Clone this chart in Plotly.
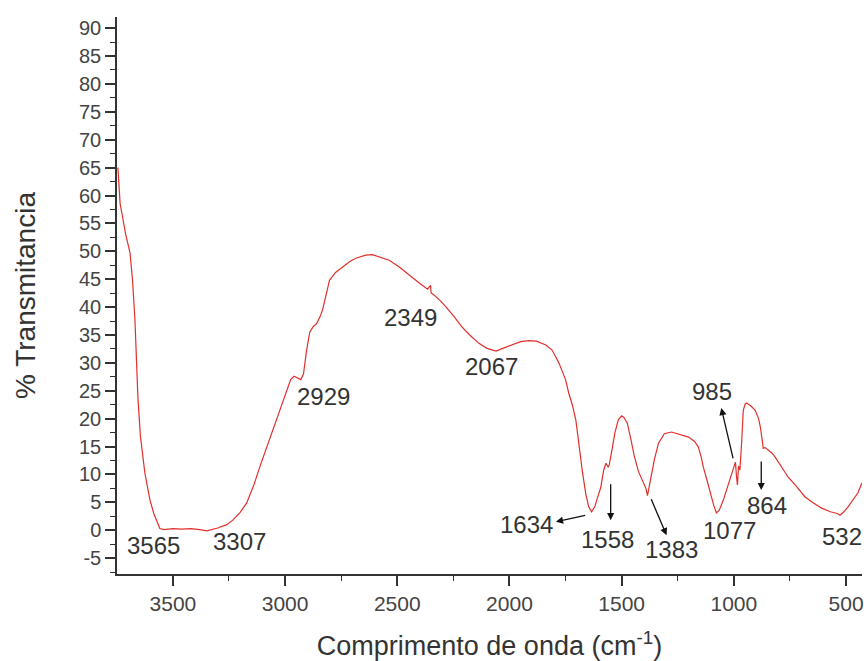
import plotly.graph_objects as go

# Spectrum: wavenumber (cm-1) and % transmittance
wavenumber = [3745, 3740, 3735, 3728, 3722, 3710, 3691, 3680, 3669, 3662, 3656, 3645, 3635, 3625,
              3612, 3602, 3585, 3571, 3558, 3540, 3500, 3460, 3420, 3380, 3349, 3300, 3260, 3233,
              3200, 3171, 3140, 3113, 3085, 3056, 3025, 2993, 2975, 2960, 2945, 2930, 2918, 2905,
              2890, 2875, 2860, 2845, 2833, 2820, 2802, 2775, 2745, 2710, 2682, 2640, 2611, 2580,
              2536, 2491, 2450, 2402, 2365, 2352, 2349, 2340, 2310, 2282, 2245, 2211, 2175, 2136,
              2100, 2060, 2030, 1989, 1950, 1913, 1880, 1838, 1810, 1793, 1780, 1767, 1750, 1736,
              1720, 1704, 1690, 1675, 1660, 1647, 1634, 1620, 1611, 1600, 1593, 1580, 1570, 1560,
              1555, 1545, 1530, 1515, 1500, 1490, 1475, 1460, 1445, 1425, 1405, 1392, 1385, 1380,
              1370, 1355, 1336, 1310, 1278, 1240, 1202, 1175, 1158, 1145, 1136, 1120, 1105, 1090,
              1078, 1065, 1047, 1030, 1016, 1002, 993, 988, 984, 979, 973, 965, 958, 950, 944, 925,
              905, 890, 882, 875, 869, 860, 847, 830, 816, 790, 758, 720, 684, 650, 611, 570, 540,
              527, 510, 491, 470, 447, 429]
transmittance = [65.0, 62.0, 58.5, 57.0, 55.6, 53.0, 49.7, 45.0, 37.7, 31.0, 23.9, 17.0, 13.0, 10.3,
                 7.5, 5.4, 3.0, 1.5, 0.3, 0.1, 0.3, 0.2, 0.3, 0.1, -0.1, 0.4, 1.0, 1.8,
                 3.2, 4.9, 8.0, 11.3, 14.5, 18.0, 21.5, 25.1, 27.0, 27.6, 27.3, 27.0, 28.0, 32.0,
                 35.5, 36.5, 37.0, 38.2, 39.5, 42.0, 44.8, 46.2, 47.2, 48.2, 48.8, 49.3, 49.4, 49.0,
                 48.4, 47.2, 45.8, 44.3, 43.2, 43.9, 42.5, 42.3, 41.2, 40.0, 38.2, 36.4, 34.9, 33.5,
                 32.6, 32.1, 32.6, 33.2, 33.8, 34.0, 33.9, 33.2, 32.3, 31.0, 30.0, 28.7, 27.0, 24.6,
                 22.5, 19.7, 15.0, 10.5, 6.5, 4.2, 3.3, 4.2, 5.4, 7.0, 7.7, 10.8, 12.0, 11.3,
                 11.8, 14.0, 17.5, 19.8, 20.5, 20.2, 19.2, 16.5, 13.5, 10.5, 8.5, 7.5, 6.2, 7.2,
                 9.5, 12.5, 15.6, 17.3, 17.6, 17.2, 16.7, 15.9, 14.9, 13.0, 11.3, 9.0, 6.7, 4.5,
                 3.1, 3.6, 5.4, 7.5, 9.5, 11.3, 12.2, 9.5, 8.1, 11.5, 10.8, 16.0, 21.5, 22.6, 22.8, 22.3,
                 21.5, 20.0, 18.5, 16.5, 14.7, 14.8, 14.4, 13.8, 13.1, 11.5, 9.5, 7.8, 6.0, 5.0, 4.0, 3.3, 3.0,
                 2.7, 3.3, 4.2, 5.5, 6.7, 8.5]

# Peak labels: text, x, y (label centre)
peak_labels = ["3565", "3307", "2929", "2349", "2067", "1634", "1558", "1383", "1077", "985", "864", "532"]
label_x = [3587, 3202, 2831, 2440, 2080, 1922, 1562, 1280, 1020, 1096, 851, 518]
label_y = [-2.8, -2.0, 24.0, 38.2, 29.3, 1.1, -1.75, -3.5, -0.1, 24.8, 4.5, -1.2]

# Arrows: head (x, y) and tail (x, y)
arrow_head_x = [1793, 1549, 1300, 1056, 878]
arrow_head_y = [1.5, 1.8, -0.9, 21.9, 7.2]
arrow_tail_x = [1656, 1549, 1371, 1002, 878]
arrow_tail_y = [2.7, 8.5, 5.8, 12.6, 12.6]

x_ticks = [3500, 3000, 2500, 2000, 1500, 1000, 500]
y_ticks = list(range(-5, 95, 5))

FONT = "Liberation Sans, Arial, sans-serif"
TXT = "#333333"

fig = go.Figure()
fig.add_trace(go.Scatter(x=wavenumber, y=transmittance, mode="lines",
                         line=dict(color="#e0302c", width=1.2), showlegend=False,
                         hoverinfo="skip"))

annotations = []
for t, x, y in zip(peak_labels, label_x, label_y):
    annotations.append(dict(x=x, y=y, xref="x", yref="y", text=t, showarrow=False,
                            font=dict(family=FONT, size=24, color=TXT)))
for hx, hy, tx, ty in zip(arrow_head_x, arrow_head_y, arrow_tail_x, arrow_tail_y):
    annotations.append(dict(x=hx, y=hy, ax=tx, ay=ty, xref="x", yref="y", axref="x", ayref="y",
                            text="", showarrow=True, arrowhead=2, arrowsize=1.1,
                            arrowwidth=1.3, arrowcolor="#111111"))

fig.update_layout(
    width=864, height=661,
    margin=dict(l=117, r=0, t=17, b=87),
    paper_bgcolor="white", plot_bgcolor="white",
    font=dict(family=FONT, color=TXT),
    annotations=annotations,
)
fig.update_xaxes(
    range=[3749, 429], autorange=False,
    tickvals=x_ticks, ticktext=[str(v) for v in x_ticks],
    tickfont=dict(family=FONT, size=21, color="#444444"),
    ticklabeloverflow="allow",
    ticks="outside", ticklen=10, tickwidth=1.5, tickcolor="#333333",
    minor=dict(dtick=250, tick0=500, ticks="outside", ticklen=5, tickwidth=1.2, tickcolor="#333333"),
    showline=True, linecolor="#333333", linewidth=1.5, showgrid=False, zeroline=False,
    title=dict(text="Comprimento de onda (cm<sup>-1</sup>)",
               font=dict(family=FONT, size=27, color=TXT), standoff=24),
)
fig.update_yaxes(
    range=[-7.85, 92], autorange=False,
    tickvals=y_ticks, ticktext=[str(v) for v in y_ticks],
    tickfont=dict(family=FONT, size=20, color="#444444"),
    ticks="outside", ticklen=10, tickwidth=1.5, tickcolor="#333333",
    minor=dict(dtick=2.5, tick0=0, ticks="outside", ticklen=5, tickwidth=1.2, tickcolor="#333333"),
    showline=True, linecolor="#333333", linewidth=1.5, showgrid=False, zeroline=False,
    title=dict(text="% Transmitancia", font=dict(family=FONT, size=28, color=TXT), standoff=35),
)

fig.write_html("out.html")
